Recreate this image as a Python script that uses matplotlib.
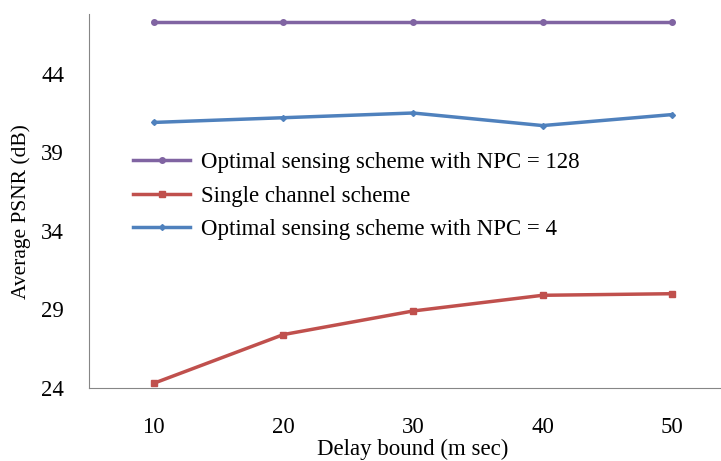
import numpy as np
import matplotlib.pyplot as plt

plt.rcParams['font.family'] = ['Liberation Serif', 'DejaVu Serif']

delay = [10, 20, 30, 40, 50]
psnr_npc128 = [47.3, 47.3, 47.3, 47.3, 47.3]
psnr_single = [24.3, 27.4, 28.9, 29.9, 30.0]
psnr_npc4 = [40.9, 41.2, 41.5, 40.7, 41.4]
y_ticks = [24, 29, 34, 39, 44]

fs = 16.5

fig = plt.figure(figsize=(7.21, 4.61), dpi=100)
ax = fig.add_axes([89 / 721, 73 / 461, 648 / 721, 374 / 461])

ax.plot(delay, psnr_npc128, color='#8064A2', lw=2.5, marker='o', ms=4,
        label='Optimal sensing scheme with NPC = 128')
ax.plot(delay, psnr_single, color='#C0504D', lw=2.5, marker='s', ms=5,
        label='Single channel scheme')
ax.plot(delay, psnr_npc4, color='#4F81BD', lw=2.5, marker='D', ms=3,
        label='Optimal sensing scheme with NPC = 4')

ax.set_xlim(5, 55)
ax.set_ylim(24, 47.8)
ax.set_xticks(delay)
ax.set_yticks(y_ticks)
ax.tick_params(length=0, labelsize=fs)
ax.tick_params(axis='x', pad=21)
ax.tick_params(axis='y', pad=18)

for s in ['top', 'right']:
    ax.spines[s].set_visible(False)
for s in ['left', 'bottom']:
    ax.spines[s].set_color('#868686')

ax.set_xlabel('Delay bound (m sec)', fontsize=fs)
ax.xaxis.set_label_coords(0.5, -0.137)
ax.set_ylabel('Average PSNR (dB)', fontsize=15.5, va='center')
ax.yaxis.set_label_coords(-0.105, 0.473)

ax.legend(loc='upper left', bbox_to_anchor=(0.036, 0.685), frameon=False,
          fontsize=fs, handlelength=2.5, handletextpad=0.45, labelspacing=0.53)

fig.savefig('out.png', dpi=100)
